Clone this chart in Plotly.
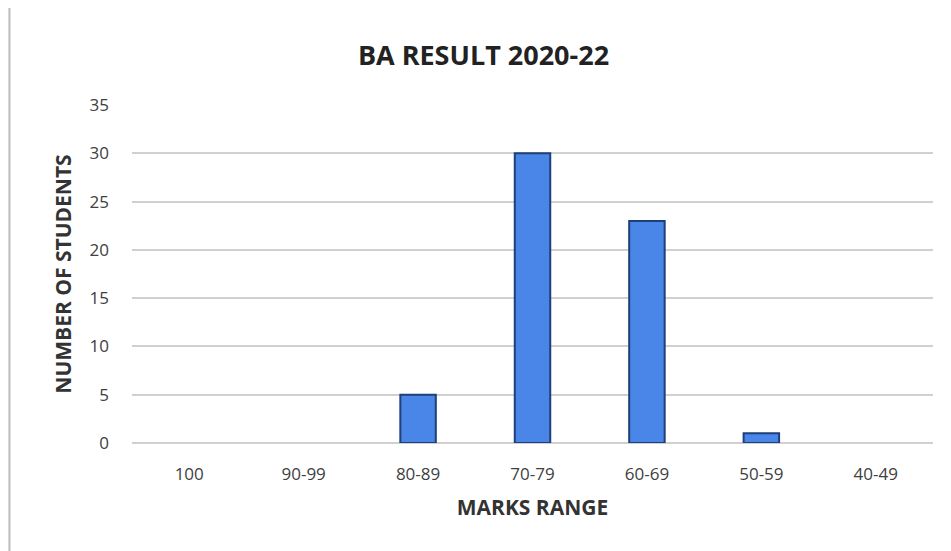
import plotly.graph_objects as go

# data
marks_range = ["100", "90-99", "80-89", "70-79", "60-69", "50-59", "40-49"]
num_students = [0, 0, 5, 30, 23, 1, 0]

BAR_FILL = "#4A86E8"
BAR_EDGE = "#1F3F7A"
GRID = "#D0D0D0"
TEXT = "#404040"

fig = go.Figure()

fig.add_trace(go.Bar(
    x=marks_range,
    y=num_students,
    marker=dict(color=BAR_FILL,
                line=dict(color=BAR_EDGE, width=[2 if v else 0 for v in num_students])),
    width=0.31,
    hoverinfo="x+y",
))

# faint frame edges of the scanned chart
fig.add_shape(type="line", xref="paper", yref="paper",
              x0=-0.153, x1=-0.153, y0=-0.35, y1=1.3,
              line=dict(color="#BBBBBB", width=2))
fig.add_shape(type="line", xref="paper", yref="paper",
              x0=1.016, x1=1.016, y0=-0.35, y1=1.3,
              line=dict(color="#EEEEEE", width=1.5))

fig.update_layout(
    width=951, height=551,
    paper_bgcolor="white", plot_bgcolor="white",
    font=dict(family="Open Sans, sans-serif", color=TEXT, size=17),
    title=dict(
        text="<b>BA RESULT 2020-22</b>",
        x=0.5, xanchor="center", y=0.913, yanchor="middle",
        font=dict(size=27, color="#222222"),
    ),
    xaxis=dict(
        title=dict(text="<b>MARKS RANGE</b>", font=dict(size=21, color="#333333"), standoff=16),
        showgrid=False, showline=False, ticks="",
        tickfont=dict(size=17, color=TEXT),
        ticklabelstandoff=19,
    ),
    yaxis=dict(
        title=dict(text="<b>NUMBER OF STUDENTS</b>", font=dict(size=21, color="#333333"), standoff=12),
        range=[0, 35], dtick=5, tick0=0,
        showgrid=True, gridcolor=GRID, gridwidth=1.5,
        zeroline=True, zerolinecolor=GRID, zerolinewidth=1.5,
        ticks="", tickfont=dict(size=17, color=TEXT),
        ticklabelstandoff=22,
    ),
    showlegend=False,
    bargap=0.69,
    margin=dict(l=124, r=26, t=97, b=116),
)

fig.write_html("out.html")
